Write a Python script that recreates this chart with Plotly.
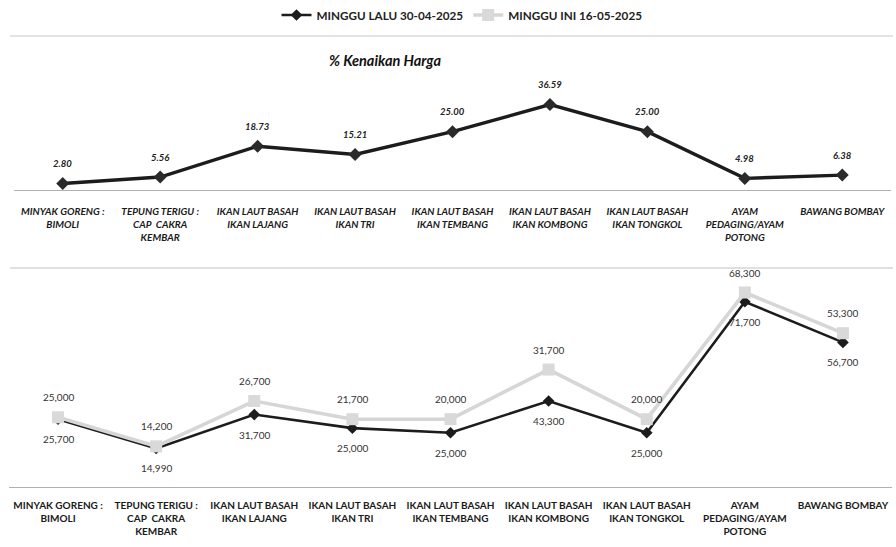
import plotly.graph_objects as go

W, H = 896, 547

categories = [
    "MINYAK GORENG :<br>BIMOLI",
    "TEPUNG TERIGU :<br>CAP  CAKRA<br>KEMBAR",
    "IKAN LAUT BASAH<br>IKAN LAJANG",
    "IKAN LAUT BASAH<br>IKAN TRI",
    "IKAN LAUT BASAH<br>IKAN TEMBANG",
    "IKAN LAUT BASAH<br>IKAN KOMBONG",
    "IKAN LAUT BASAH<br>IKAN TONGKOL",
    "AYAM<br>PEDAGING/AYAM<br>POTONG",
    "BAWANG BOMBAY",
]
pct_increase = [2.80, 5.56, 18.73, 15.21, 25.00, 36.59, 25.00, 4.98, 6.38]
minggu_lalu = [25000, 14200, 26700, 21700, 20000, 31700, 20000, 68300, 53300]
minggu_ini = [25700, 14990, 31700, 25000, 25000, 43300, 25000, 71700, 56700]

name_lalu = "<b>MINGGU LALU 30-04-2025</b>"
name_ini = "<b>MINGGU INI 16-05-2025</b>"

idx = list(range(len(categories)))
FONT = "Lato"

fig = go.Figure()

# Top chart: % increase
fig.add_trace(go.Scatter(
    x=idx, y=pct_increase, mode="lines+markers", showlegend=False,
    line=dict(color="#1c1c1c", width=3.4),
    marker=dict(symbol="diamond", size=10, color="#2a2a2a"),
    xaxis="x", yaxis="y", hoverinfo="skip",
))

# Bottom chart: prices
fig.add_trace(go.Scatter(
    x=idx, y=minggu_lalu, mode="lines+markers", name=name_lalu,
    line=dict(color="#1c1c1c", width=2.6),
    marker=dict(symbol="diamond", size=9, color="#1c1c1c"),
    xaxis="x2", yaxis="y2",
))
fig.add_trace(go.Scatter(
    x=idx, y=minggu_ini, mode="lines+markers", name=name_ini,
    line=dict(color="#d6d6d6", width=3.6),
    marker=dict(symbol="square", size=12, color="#d9d9d9"),
    xaxis="x2", yaxis="y2",
))

annotations = []
for i, v in zip(idx, pct_increase):
    annotations.append(dict(
        x=i, y=v, xref="x", yref="y", text=f"<b><i>{v:.2f}</i></b>",
        showarrow=False, yshift=20, font=dict(family=FONT, size=9.5, color="#222"),
    ))
for i, a, b in zip(idx, minggu_lalu, minggu_ini):
    annotations.append(dict(
        x=i, y=max(a, b), xref="x2", yref="y2", text=f"{a:,}",
        showarrow=False, yshift=20, font=dict(family=FONT, size=10, color="#333"),
    ))
    annotations.append(dict(
        x=i, y=min(a, b), xref="x2", yref="y2", text=f"{b:,}",
        showarrow=False, yshift=-20, font=dict(family=FONT, size=10, color="#333"),
    ))

annotations.append(dict(
    x=385 / W, y=1 - 60 / H, xref="paper", yref="paper",
    xanchor="center", yanchor="middle",
    text="<b><i>% Kenaikan Harga</i></b>", showarrow=False,
    font=dict(family=FONT, size=14.5, color="#111"),
))

tick_top = [f"<b><i>{c}</i></b>" for c in categories]
tick_bot = [f"<b>{c}</b>" for c in categories]

fig.update_layout(
    width=W, height=H,
    margin=dict(l=0, r=0, t=0, b=0),
    paper_bgcolor="white", plot_bgcolor="white",
    font=dict(family=FONT, color="#222"),
    showlegend=True,
    legend=dict(
        orientation="h", x=462 / W, xanchor="center", y=1 - 15 / H, yanchor="middle",
        font=dict(family=FONT, size=11.7, color="#222"),
        itemwidth=30, bgcolor="rgba(0,0,0,0)",
    ),
    xaxis=dict(
        domain=[14 / W, 891 / W], range=[-0.5, 8.5], tickmode="array",
        tickvals=idx, ticktext=tick_top, showgrid=False, zeroline=False,
        showline=True, linecolor="#b0b0b0", linewidth=1,
        ticks="outside", ticklen=12, tickcolor="rgba(0,0,0,0)",
        tickfont=dict(family=FONT, size=10, color="#1a1a1a"),
    ),
    yaxis=dict(
        domain=[1 - 190 / H, 1 - 85 / H], range=[0, 45],
        visible=False, showgrid=False, zeroline=False,
    ),
    xaxis2=dict(
        domain=[9 / W, 892 / W], range=[-0.5, 8.5], tickmode="array",
        tickvals=idx, ticktext=tick_bot, showgrid=False, zeroline=False,
        showline=True, linecolor="#b0b0b0", linewidth=1,
        ticks="outside", ticklen=9, tickcolor="rgba(0,0,0,0)",
        tickfont=dict(family=FONT, size=10, color="#1a1a1a"),
        anchor="y2",
    ),
    yaxis2=dict(
        domain=[1 - 487 / H, 1 - 270 / H], range=[0, 80000],
        visible=False, showgrid=False, zeroline=False,
    ),
    annotations=annotations,
    shapes=[
        dict(type="line", xref="paper", yref="paper", x0=10 / W, x1=893 / W,
             y0=1 - 36 / H, y1=1 - 36 / H, line=dict(color="#c8c8c8", width=1)),
        dict(type="line", xref="paper", yref="paper", x0=10 / W, x1=893 / W,
             y0=1 - 268 / H, y1=1 - 268 / H, line=dict(color="#c0c0c0", width=1)),
    ],
)

fig.write_html(
    "out.html",
    config={"displayModeBar": False},
    post_script="document.body.style.margin='0';document.body.style.overflow='hidden';",
)
